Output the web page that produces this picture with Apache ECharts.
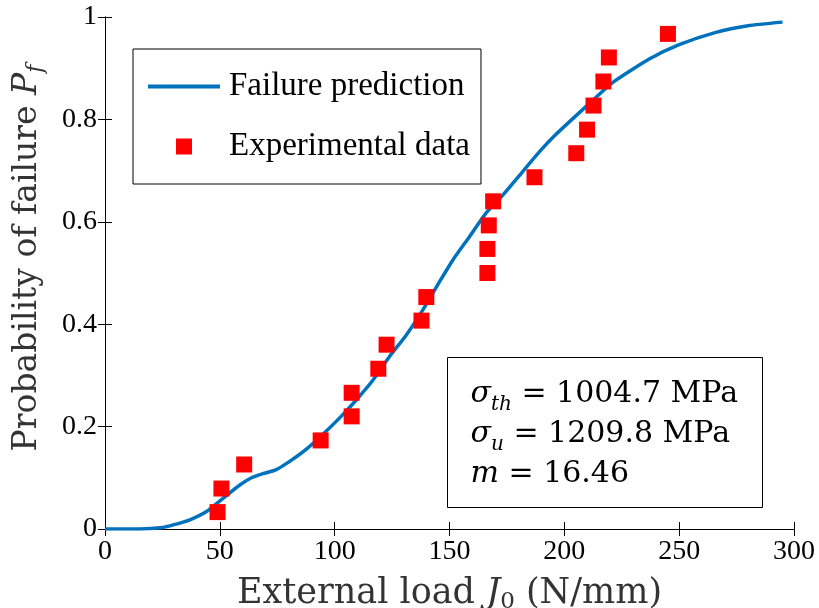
<!DOCTYPE html>
<html>
<head>
<meta charset="utf-8">
<script src="https://cdn.jsdelivr.net/npm/echarts@6/dist/echarts.min.js"></script>
<style>
  html, body { margin: 0; padding: 0; background: #ffffff; }
  #chart { width: 819px; height: 608px; }
</style>
</head>
<body>
<div id="chart"></div>
<script>
// ---- data ----
const predX = [0, 10, 20, 25, 29.7, 37, 44.2, 51.4, 58.7, 63.8, 68.8, 74.6, 80.4, 87.7, 94.9, 102.2, 109.4, 116.7, 123.9, 131.2, 138.4, 145.7, 151.4, 158.7, 165.9, 173.2, 180.4, 183.3, 190, 196.4, 209.4, 221, 237, 250, 266, 280, 295];
const predY = [0, 0, 0.001, 0.003, 0.008, 0.018, 0.034, 0.06, 0.086, 0.100, 0.108, 0.116, 0.132, 0.156, 0.185, 0.217, 0.252, 0.291, 0.337, 0.379, 0.428, 0.483, 0.525, 0.571, 0.617, 0.652, 0.690, 0.706, 0.741, 0.771, 0.825, 0.872, 0.918, 0.946, 0.970, 0.983, 0.990];

const expX = [49.0, 50.7, 60.6, 93.9, 107.4, 107.4, 119.0, 122.6, 137.8, 139.9, 166.5, 166.5, 167.1, 169.0, 187.0, 205.2, 209.9, 212.7, 217.0, 219.4, 245.1];
const expY = [0.033, 0.079, 0.126, 0.173, 0.220, 0.266, 0.313, 0.360, 0.407, 0.453, 0.500, 0.547, 0.593, 0.640, 0.687, 0.734, 0.780, 0.827, 0.874, 0.921, 0.967];

const xTicks = [0, 50, 100, 150, 200, 250, 300];
const yTicks = [0, 0.2, 0.4, 0.6, 0.8, 1];

const seriesNames = ['Failure prediction', 'Experimental data'];
const paramLines = [
  ['σ', 'th', ' = 1004.7 MPa'],
  ['σ', 'u', ' = 1209.8 MPa'],
  ['m', '', ' = 16.46']
];

// ---- chart ----
const times = 'Liberation Serif';
const cm = 'DejaVu Serif';
const chart = echarts.init(document.getElementById('chart'), null, { renderer: 'canvas' });

const axisLine = { show: true, lineStyle: { color: '#000', width: 1 } };
const tickIn = { show: true, inside: true, length: 7, lineStyle: { color: '#000', width: 1 } };

function titleRich(size) {
  const sub = Math.round(size * 0.66);
  return {
    i: { fontFamily: cm, fontStyle: 'italic', fontSize: size, lineHeight: size + 6, color: '#333' },
    sub: { fontFamily: cm, fontStyle: 'italic', fontSize: sub, lineHeight: sub - 3, verticalAlign: 'bottom', color: '#333' },
    subn: { fontFamily: cm, fontSize: sub, lineHeight: sub - 3, verticalAlign: 'bottom', color: '#333' },
    n: { fontFamily: cm, fontSize: size, lineHeight: size + 6, color: '#333' }
  };
}

const boxRich = {
  i: { fontFamily: cm, fontStyle: 'italic', fontSize: 30, lineHeight: 40, color: '#000' },
  sub: { fontFamily: cm, fontStyle: 'italic', fontSize: 20, lineHeight: 18, verticalAlign: 'bottom', color: '#000' },
  n: { fontFamily: cm, fontSize: 30, lineHeight: 40, color: '#000' }
};

const paramText = paramLines.map(p => '{i|' + p[0] + '}' + (p[1] ? '{sub|' + p[1] + '}' : '') + '{n|' + p[2] + '}').join('\n');

const option = {
  backgroundColor: '#ffffff',
  animation: false,
  grid: { left: 105, right: 25, top: 17, bottom: 79, containLabel: false, outerBoundsMode: 'none' },
  legend: {
    orient: 'vertical',
    left: 133,
    top: 49,
    padding: [21, 11, 21, 15],
    itemWidth: 72,
    itemHeight: 16,
    itemGap: 27,
    symbolKeepAspect: true,
    borderColor: '#000',
    borderWidth: 1,
    backgroundColor: '#fff',
    textStyle: { fontFamily: times, fontSize: 33, color: '#000', padding: [0, 0, 0, 4] },
    data: [
      { name: seriesNames[0], icon: 'path://M0 0H72V4H0Z' },
      { name: seriesNames[1], icon: 'path://M0 0H16V16H0Z' }
    ]
  },
  xAxis: [
    {
      type: 'value', min: xTicks[0], max: xTicks[xTicks.length - 1], interval: 50,
      position: 'bottom',
      axisLine: axisLine, axisTick: tickIn, splitLine: { show: false },
      axisLabel: { fontFamily: times, fontSize: 28, color: '#000', margin: 9 },
      name: '{n|External load }{i|J}{subn|0}{n| (N/mm)}',
      nameLocation: 'middle', nameGap: 44,
      nameTextStyle: { rich: titleRich(35) }
    },
    {
      type: 'value', min: xTicks[0], max: xTicks[xTicks.length - 1], interval: 50,
      position: 'top',
      axisLine: axisLine, axisTick: tickIn, splitLine: { show: false },
      axisLabel: { show: false }
    }
  ],
  yAxis: [
    {
      type: 'value', min: yTicks[0], max: yTicks[yTicks.length - 1], interval: 0.2,
      position: 'left',
      axisLine: axisLine, axisTick: tickIn, splitLine: { show: false },
      axisLabel: { fontFamily: times, fontSize: 28, color: '#000', margin: 8 },
      name: '{n|Probability of failure }{i|P}{sub|f}',
      nameLocation: 'middle', nameGap: 58,
      nameTextStyle: { rich: titleRich(33), padding: [0, 0, 0, 30] }
    },
    {
      type: 'value', min: yTicks[0], max: yTicks[yTicks.length - 1], interval: 0.2,
      position: 'right',
      axisLine: axisLine, axisTick: tickIn, splitLine: { show: false },
      axisLabel: { show: false }
    }
  ],
  series: [
    {
      name: seriesNames[0],
      type: 'line',
      xAxisIndex: 0, yAxisIndex: 0,
      data: predX.map((x, i) => [x, predY[i]]),
      symbol: 'none',
      smooth: 0.2,
      lineStyle: { color: '#0072BD', width: 3.5 },
      itemStyle: { color: '#0072BD' },
      z: 2
    },
    {
      name: seriesNames[1],
      type: 'scatter',
      xAxisIndex: 0, yAxisIndex: 0,
      data: expX.map((x, i) => [x, expY[i]]),
      symbol: 'rect',
      symbolSize: 16,
      itemStyle: { color: '#FF0000', opacity: 1 },
      z: 3
    }
  ],
  graphic: [
    {
      type: 'group',
      left: 447, top: 357,
      children: [
        { type: 'rect', shape: { x: 0, y: 0, width: 315, height: 150 }, style: { fill: '#fff', stroke: '#000', lineWidth: 1 } },
        { type: 'text', x: 23, y: 17, style: { text: paramText, rich: boxRich } }
      ]
    }
  ]
};

chart.setOption(option);
</script>
</body>
</html>
